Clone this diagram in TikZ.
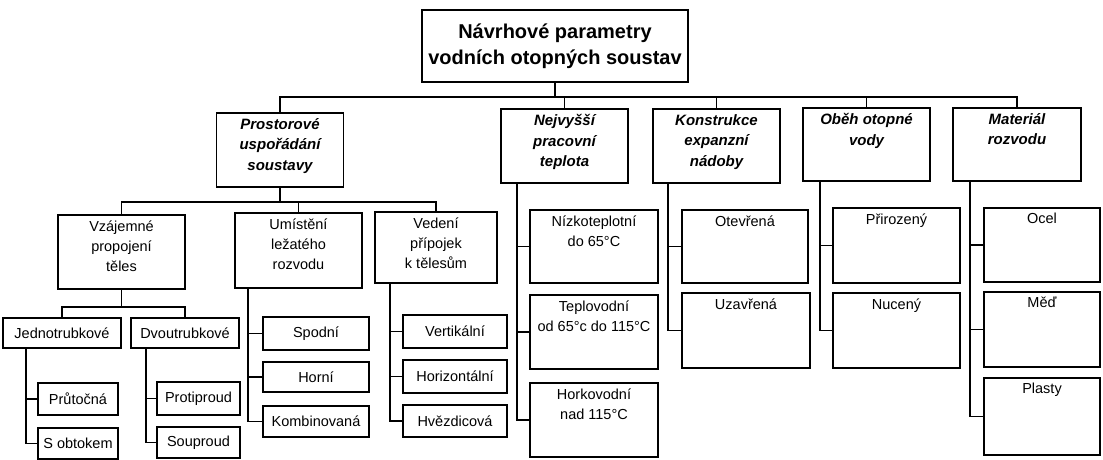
\documentclass[tikz,border=0pt]{standalone}
\usepackage{fontspec}
\setmainfont{Liberation Sans}

\begin{document}
\begin{tikzpicture}[
    x=1pt, y=-1pt,
    title/.style={draw, line width=1.6pt, inner sep=0pt, align=center, font=\fontsize{20}{26}\selectfont\bfseries},
    box/.style={draw, line width=1.6pt, inner sep=0pt, align=center, font=\fontsize{14.5}{20}\selectfont},
    tallbox/.style={draw, line width=1.6pt, inner sep=0pt},
    head/.style={tallbox, minimum width=127pt, minimum height=74pt},
    sub/.style={tallbox, minimum width=127pt, minimum height=74pt},
    toptext/.style={anchor=north, align=center, inner sep=0pt, yshift=-6pt, font=\fontsize{14.5}{20}\selectfont},
    headtext/.style={toptext, font=\fontsize{15}{20.5}\selectfont\bfseries\itshape},
    conn/.style={line width=1.3pt}
]
\useasboundingbox (0,0) rectangle (1103,460);

% Title
\node[title, minimum width=266pt, minimum height=72pt] (title) at (555,46) {Návrhové parametry\\vodních otopných soustav};

% Main parameters
\node[head, label={[headtext]north:{Prostorové\\uspořádání\\soustavy}}] (prost) at (280,150) {};
\node[head, label={[headtext]north:{Nejvyšší\\pracovní\\teplota}}] (nejv) at (564.5,146) {};
\node[head, label={[headtext]north:{Konstrukce\\expanzní\\nádoby}}] (konst) at (716.5,146) {};
\node[head, minimum height=73pt, label={[headtext]north:{Oběh otopné\\vody}}] (obeh) at (866.5,144.5) {};
\node[head, minimum width=128pt, minimum height=73pt, label={[headtext]north:{Materiál\\rozvodu}}] (mater) at (1017,144.5) {};

% Spatial arrangement
\node[sub, label={[toptext]north:{Vzájemné\\propojení\\těles}}] (vzaj) at (121.5,252) {};
\node[sub, minimum height=75pt, label={[toptext]north:{Umístění\\ležatého\\rozvodu}}] (umist) at (298.5,250.5) {};
\node[sub, minimum width=122pt, minimum height=71pt, label={[toptext]north:{Vedení\\přípojek\\k tělesům}}] (vedeni) at (436,247.5) {};

\node[box, minimum width=118pt, minimum height=30pt] (jedno) at (62,333) {Jednotrubkové};
\node[box, minimum width=108pt, minimum height=30pt] (dvou) at (185,333) {Dvoutrubkové};
\node[box, minimum width=80pt, minimum height=32pt] (prut) at (78,399) {Průtočná};
\node[box, minimum width=80pt, minimum height=31pt] (sobt) at (78,443.5) {S obtokem};
\node[box, minimum width=83pt, minimum height=33pt] (proti) at (198.5,398.5) {Protiproud};
\node[box, minimum width=83pt, minimum height=31pt] (soupr) at (198.5,442.5) {Souproud};

\node[box, minimum width=106pt, minimum height=33pt] (spodni) at (316,333.5) {Spodní};
\node[box, minimum width=106pt, minimum height=30pt] (horni) at (316,377) {Horní};
\node[box, minimum width=106pt, minimum height=31pt] (kombi) at (316,421.5) {Kombinovaná};

\node[box, minimum width=104pt, minimum height=33pt] (vert) at (455,331.5) {Vertikální};
\node[box, minimum width=104pt, minimum height=33pt] (horiz) at (455,376.5) {Horizontální};
\node[box, minimum width=104pt, minimum height=32pt] (hvezd) at (455,421) {Hvězdicová};

% Working temperature
\node[sub, minimum width=128pt, minimum height=73pt, label={[toptext]north:{Nízkoteplotní\\do 65°C}}] (nizko) at (594,246.5) {};
\node[sub, minimum width=128pt, label={[toptext]north:{Teplovodní\\od 65°c do 115°C}}] (teplo) at (594,332) {};
\node[sub, minimum width=128pt, label={[toptext]north:{Horkovodní\\nad 115°C}}] (horko) at (594,420) {};

% Expansion vessel
\node[sub, minimum width=126pt, minimum height=73pt, label={[toptext]north:Otevřená}] (otev) at (745,246.5) {};
\node[sub, minimum width=128pt, minimum height=75pt, label={[toptext]north:Uzavřená}] (uzav) at (746,330.5) {};

% Circulation
\node[sub, minimum height=75pt, label={[toptext]north:Přirozený}] (priroz) at (896.5,245.5) {};
\node[sub, minimum height=75pt, label={[toptext]north:Nucený}] (nucen) at (896.5,330.5) {};

% Material
\node[sub, minimum width=116pt, label={[toptext]north:Ocel}] (ocel) at (1042,245) {};
\node[sub, minimum width=116pt, minimum height=75pt, label={[toptext]north:Měď}] (med) at (1042,329.5) {};
\node[sub, minimum width=116pt, minimum height=77pt, label={[toptext]north:Plasty}] (plasty) at (1042,416.5) {};

% Buses
\coordinate (bus) at (0,97);
\coordinate (pbus) at (0,202);
\coordinate (vbus) at (0,307);

\draw[conn] (title.south) -- (title.south |- bus);
\draw[conn] (prost.north) -- (prost.north |- bus) -- (mater.north |- bus) -- (mater.north);
\foreach \n in {nejv,konst,obeh}
    \draw[conn] (\n.north) -- (\n.north |- bus);

\draw[conn] (prost.south) -- (prost.south |- pbus);
\draw[conn] (vzaj.north) -- (vzaj.north |- pbus) -- (vedeni.north |- pbus) -- (vedeni.north);
\draw[conn] (umist.north) -- (umist.north |- pbus);

\draw[conn] (vzaj.south) -- (vzaj.south |- vbus);
\draw[conn] (jedno.north) -- (jedno.north |- vbus) -- (dvou.north |- vbus) -- (dvou.north);

% Spines to the children
\coordinate (jsp) at (26,0);
\coordinate (dsp) at (146,0);
\coordinate (usp) at (248,0);
\coordinate (vsp) at (390,0);
\coordinate (nsp) at (517,0);
\coordinate (ksp) at (668,0);
\coordinate (osp) at (820,0);
\coordinate (msp) at (970,0);

\foreach \s/\p/\c in {jsp/jedno/prut, jsp/jedno/sobt, dsp/dvou/proti, dsp/dvou/soupr,
    usp/umist/spodni, usp/umist/horni, usp/umist/kombi,
    vsp/vedeni/vert, vsp/vedeni/horiz, vsp/vedeni/hvezd,
    nsp/nejv/nizko, nsp/nejv/teplo, nsp/nejv/horko,
    ksp/konst/otev, ksp/konst/uzav,
    osp/obeh/priroz, osp/obeh/nucen,
    msp/mater/ocel, msp/mater/med, msp/mater/plasty}
    \draw[conn] (\s |- \p.south) |- (\c.west);

\end{tikzpicture}
\end{document}
